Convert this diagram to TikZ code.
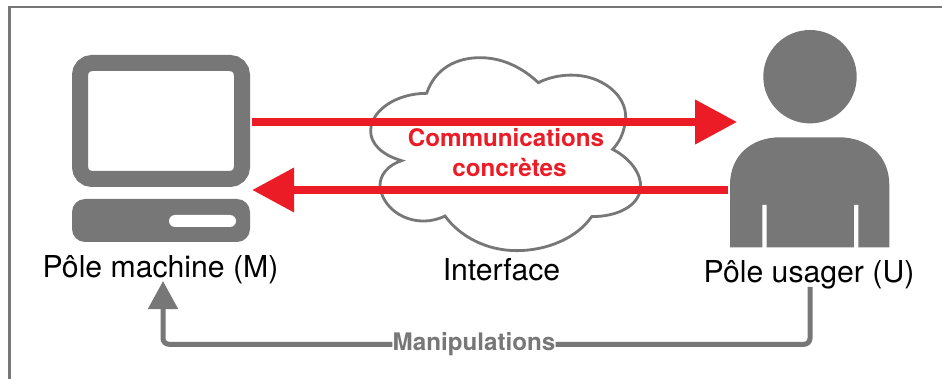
\documentclass[tikz,border=0pt]{standalone}
\usepackage{fontspec}
\setmainfont{TeX Gyre Heros}
\usetikzlibrary{arrows.meta,calc}
\definecolor{gr}{HTML}{777777}
\definecolor{rd}{HTML}{EB1C26}
\tikzset{
  x=1pt,y=-1pt,
  lbl/.style={anchor=base,inner sep=0pt,font=\fontsize{30.2}{30}\selectfont,text=black},
  redtxt/.style={anchor=base,inner sep=0pt,font=\fontsize{24.2}{24}\selectfont\bfseries,text=rd},
  grtxt/.style={anchor=base,inner sep=0pt,font=\fontsize{24.2}{24}\selectfont\bfseries,text=gr},
  redarrow/.style={draw=rd,line width=7.5pt,-{Triangle[length=42pt,width=43pt]}},
  grline/.style={draw=gr,line width=5pt,rounded corners=6pt},
  ghost/.style={inner sep=0pt,outer sep=0pt,minimum width=#1},
}
\begin{document}
\begin{tikzpicture}
\useasboundingbox (0,0) rectangle (942,379);
% frame
\fill[white] (0,0) rectangle (942,379);
\draw[gr,line width=2.5pt] (9.5,379) -- (9.5,7) -- (942,7);
% cloud
\begin{scope}[shift={(320,30)},x=0.3333pt,y=-0.3333pt]
\draw[gr,line width=2.8pt,fill=white,line join=miter]
 (320,190) .. controls (345,115) and (410,83) .. (480,83)
 .. controls (555,83) and (615,120) .. (655,158)
 .. controls (700,135) and (770,125) .. (830,150)
 .. controls (900,180) and (925,235) .. (915,280)
 .. controls (910,315) and (895,340) .. (878,358)
 .. controls (930,385) and (965,430) .. (962,475)
 .. controls (955,530) and (890,560) .. (815,560)
 .. controls (770,625) and (680,662) .. (590,662)
 .. controls (500,662) and (420,620) .. (375,558)
 .. controls (290,600) and (190,550) .. (180,470)
 .. controls (178,435) and (205,405) .. (245,392)
 .. controls (185,375) and (150,340) .. (152,300)
 .. controls (155,240) and (230,190) .. (320,190) -- cycle;
\end{scope}
% computer
\node[draw=gr,line width=16pt,rounded corners=12pt,fill=white,minimum width=162pt,minimum height=116pt,inner sep=0pt] (monitor) at (161,121) {};
\node[fill=gr,rounded corners=13pt,minimum width=178pt,minimum height=43pt,inner sep=0pt] (unit) at (161,220.5) {};
\node[fill=white,rounded corners=6pt,minimum width=67pt,minimum height=12pt,inner sep=0pt] (slot) at (202.5,221) {};
% person
\node[fill=gr,circle,minimum size=93.4pt,inner sep=0pt] (head) at (810,76.7) {};
\node[ghost=159.3pt,minimum height=110pt] (body) at (809.65,192.3) {};
\fill[gr] (body.south west) -- (730,185)
  .. controls (730,155) and (752,137.3) .. (780,137.3)
  -- (839,137.3) .. controls (867,137.3) and (889.3,155) .. (889.3,185)
  -- (body.south east) -- cycle;
\fill[white] (762.3,205) rectangle (766.7,248) (854,205) rectangle (858.3,248);
% red arrows
\coordinate (a1s) at ($(monitor.east)+(2,1)$);
\coordinate (a1e) at ($(body.west)+(7,-70.3)$);
\coordinate (a2s) at ($(body.west)+(-2,-2.3)$);
\coordinate (a2e) at ($(unit.north east)+(2,-9)$);
\draw[redarrow] (a1s) -- (a1e |- a1s);
\draw[redarrow] (a2s) -- (a2e |- a2s);
% labels
\node[lbl] (lm) at (160.5,277) {Pôle machine (M)};
\node[lbl] (lu) at (809,283) {Pôle usager (U)};
\node[lbl] (li) at (501.5,280) {Interface};
\node[redtxt] (c1) at (506,147) {Communications};
\node[redtxt] (c2) at (509.5,177) {concrètes};
\node[grtxt] (manip) at (474,350) {Manipulations};
% manipulations connector
\coordinate (ustart) at ($(lu.base)+(1,4)$);
\coordinate (mtip) at ($(lm.base)+(2.5,4)$);
\coordinate (rj) at ($(manip.base east)+(0,-5.7)$);
\coordinate (lj) at ($(manip.base west)+(0,-5.7)$);
\draw[grline] (ustart) |- (rj);
\draw[grline,-{Triangle[length=28pt,width=29pt]}] (lj) -| (mtip);
\end{tikzpicture}
\end{document}
